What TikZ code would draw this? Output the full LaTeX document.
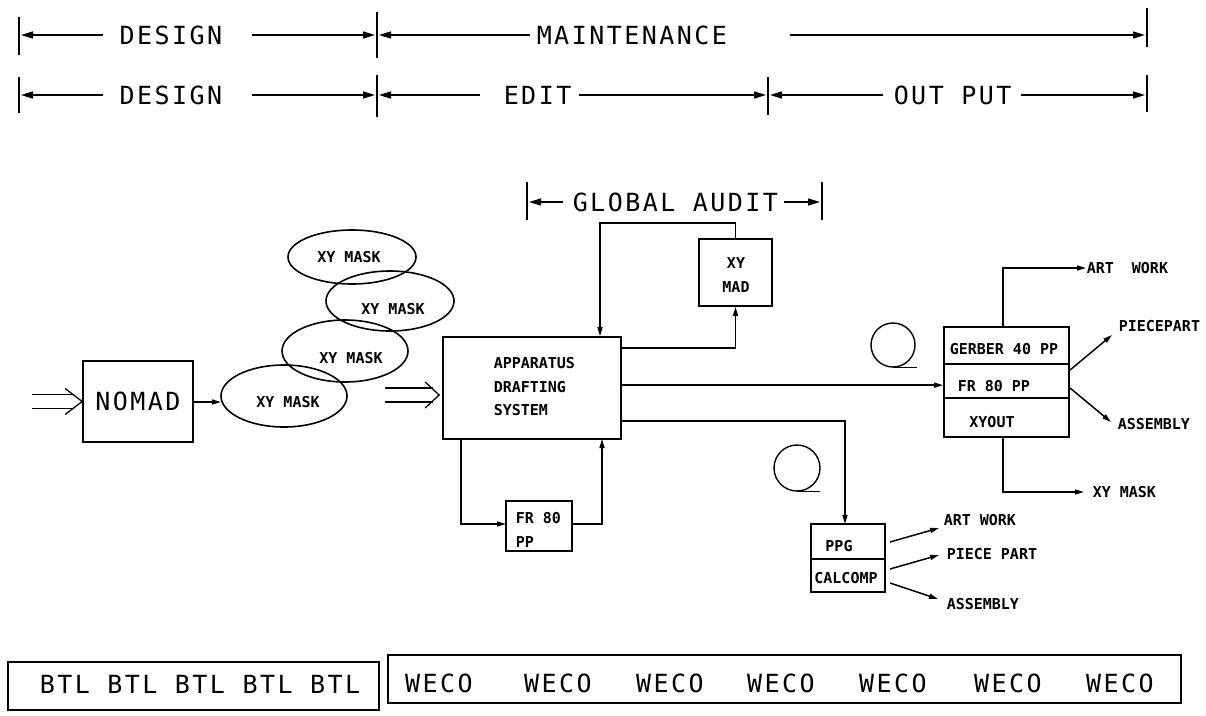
\documentclass[tikz,border=0pt]{standalone}
\usepackage{fontspec}
\usetikzlibrary{arrows.meta,shapes.geometric,calc}
\newfontfamily\plotfont[LetterSpace=9.8]{DejaVu Sans Mono}
\newfontfamily\smallfont{DejaVu Sans Mono}
\begin{document}
\begin{tikzpicture}[x=1pt,y=-1pt,line width=1.5pt,
  big/.style={font=\plotfont\fontsize{25}{25}\selectfont, inner sep=0pt},
  small/.style={font=\smallfont\bfseries\fontsize{15}{23.5}\selectfont, inner sep=0pt},
  dimtip/.style={-{Triangle[length=12pt,width=7pt]}},
  stip/.style={-{Triangle[length=9pt,width=5pt]}},
  box/.style={draw, line width=1.7pt, inner sep=0pt},
  mask/.style={ellipse, draw, line width=1.6pt, inner sep=0pt},
  dline/.style={line width=1.3pt},
  bar/.style={line width=1.5pt}]
\useasboundingbox (0,0) rectangle (1206,715);

% ---------- top dimension rows ----------
\draw[bar] (19,17) -- (19,55);
\draw[bar] (377,12) -- (377,58);
\draw[bar] (1147,8) -- (1147,47);
\node[big] (des1) at (171,35) {DESIGN};
\coordinate (r1a) at (21,35);
\coordinate (r1b) at (375,35);
\coordinate (r1c) at (379,35);
\coordinate (r1d) at (1145,35);
\draw[dimtip] ($(des1.west)+(-16,0)$) -- (r1a);
\draw[dimtip] ($(des1.east)+(29,0)$) -- (r1b);
\node[big,anchor=west] (mnt) at (536,35) {MAINTENANCE};
\draw[dimtip] ($(mnt.west)+(-6,0)$) -- (r1c);
\draw[dimtip] ($(mnt.east)+(62,0)$) -- (r1d);

\draw[bar] (19,77) -- (19,113);
\draw[bar] (377,75) -- (377,117);
\draw[bar] (768,77) -- (768,115);
\draw[bar] (1147,75) -- (1147,112);
\node[big] (des2) at (171,95) {DESIGN};
\coordinate (r2a) at (21,95);
\coordinate (r2b) at (375,95);
\coordinate (r2c) at (379,95);
\coordinate (r2d) at (766,95);
\coordinate (r2e) at (770,95);
\coordinate (r2f) at (1145,95);
\draw[dimtip] ($(des2.west)+(-16,0)$) -- (r2a);
\draw[dimtip] ($(des2.east)+(29,0)$) -- (r2b);
\node[big,anchor=west] (edit) at (503,95) {EDIT};
\draw[dimtip] ($(edit.west)+(-23,0)$) -- (r2c);
\draw[dimtip] ($(edit.east)+(7,0)$) -- (r2d);
\node[big,anchor=west] (outp) at (893,95) {OUT PUT};
\draw[dimtip] ($(outp.west)+(-10,0)$) -- (r2e);
\draw[dimtip] ($(outp.east)+(9,0)$) -- (r2f);

% ---------- global audit ----------
\draw[bar] (527,182) -- (527,220);
\draw[bar] (822,182) -- (822,220);
\node[big,anchor=west] (ga) at (572,202) {GLOBAL AUDIT};
\coordinate (ga1) at (529,202);
\coordinate (ga2) at (820,202);
\draw[dimtip] ($(ga.west)+(-9,0)$) -- (ga1);
\draw[dimtip] ($(ga.east)+(5,0)$) -- (ga2);

% ---------- left part ----------
\node[box, minimum width=110pt, minimum height=81pt, font=\plotfont\fontsize{25}{25}\selectfont] (nomad) at (138,401.5) {NOMAD};
\coordinate (in1) at (32,401.5);
\coordinate (nw) at (nomad.west);
\draw[dline] ($(in1)+(0,-7)$) -- ($(nw)+(-9,-7)$);
\draw[dline] ($(in1)+(0,7)$) -- ($(nw)+(-9,7)$);
\draw[dline] ($(nw)+(-17,-13)$) -- (nw) -- ($(nw)+(-17,13)$);

\node[mask, minimum width=128pt, minimum height=54pt] (e1) at (352,257) {};
\node[mask, minimum width=128pt, minimum height=60pt] (e2) at (390,301) {};
\node[mask, minimum width=126pt, minimum height=62pt] (e3) at (345,351) {};
\node[mask, minimum width=126pt, minimum height=62pt] (e4) at (284,396) {};
\node[small] (t1) at (349,257) {XY MASK};
\node[small] (t2) at (393,309) {XY MASK};
\node[small] (t3) at (351,358) {XY MASK};
\node[small] (t4) at (288,402) {XY MASK};
\coordinate (n4) at (221,402);
\draw[stip] (nomad.east |- n4) -- (n4);

% ---------- apparatus drafting system ----------
\node[box, minimum width=178pt, minimum height=102pt] (ads) at (532,388) {};
\node[small, align=left, anchor=north west] (adst) at (493,357) {APPARATUS\\DRAFTING\\SYSTEM};
\coordinate (in2) at (385,395);
\coordinate (aw) at (in2 -| ads.west);
\draw[dline] ($(in2)+(0,-7)$) -- ($(aw)+(-9,-7)$);
\draw[dline] ($(in2)+(0,7)$) -- ($(aw)+(-9,7)$);
\draw[dline] ($(aw)+(-17,-13)$) -- ($(aw)+(-3,0)$) -- ($(aw)+(-17,13)$);

\node[box, minimum width=73pt, minimum height=67pt] (xymad) at (735.5,272.5) {};
\node[small, align=center] (xymadt) at (736,275) {XY\\MAD};
\coordinate (lp) at (600,223);
\draw[stip] (xymad.north) |- (lp) -- (lp |- ads.north);
\coordinate (o0) at ($(ads.north east)+(0,12)$);
\draw[stip] (o0) -| (xymad.south);

\node[box, minimum width=66pt, minimum height=50pt] (fr) at (539,526) {};
\node[small, align=left, anchor=north west] (frt) at (515,512) {FR 80\\PP};
\coordinate (fa) at (461,439);
\coordinate (fb) at (602,439);
\coordinate (fc) at (506,524);
\draw[stip] (fa) |- (fc);
\draw[stip] (fr.east |- fc) -| (fb);

% ---------- output devices ----------
\node[box, minimum width=125pt, minimum height=37pt] (gc) at (1006.5,345.5) {};
\node[box, minimum width=125pt, minimum height=34pt] (fcell) at (1006.5,381) {};
\node[box, minimum width=125pt, minimum height=39pt] (xc) at (1006.5,417.5) {};
\node[small, anchor=west] (gct) at (949,349) {GERBER 40 PP};
\node[small, anchor=west] (fct) at (957,386) {FR 80 PP};
\node[small] (xct) at (992,422) {XYOUT};
\coordinate (o1) at ($(ads.north east)+(0,49)$);
\draw[stip] (o1) -- (o1 -| fcell.west);

\node[small, anchor=west] (aw1) at (1086,268) {ART\ \ WORK};
\coordinate (g1) at (1003,327);
\draw[stip] (g1) |- (aw1.west);
\node[small, anchor=west] (pp1) at (1118,326) {PIECEPART};
\coordinate (pa) at (1070,370);
\coordinate (pb) at (1112,335);
\draw[stip] (pa) -- (pb);
\node[small, anchor=west] (as1) at (1117,424) {ASSEMBLY};
\coordinate (qa) at (1070,388);
\coordinate (qb) at (1111,422);
\draw[stip] (qa) -- (qb);
\node[small, anchor=west] (xm1) at (1092,492) {XY MASK};
\coordinate (x1) at (1003,437);
\draw[stip] (x1) |- ($(xm1.west)+(-8,0)$);

\node[box, minimum width=74pt, minimum height=35pt] (ppg) at (848,541.5) {};
\node[box, minimum width=74pt, minimum height=33pt] (cal) at (848,575.5) {};
\node[small] (ppgt) at (839,546) {PPG};
\node[small] (calt) at (846,578) {CALCOMP};
\coordinate (o2) at ($(ads.north east)+(0,85)$);
\coordinate (pt) at (845,524);
\draw[stip] (o2) -| (pt);

\node[small, anchor=west] (aw2) at (943,520) {ART WORK};
\node[small, anchor=west] (pp2) at (946,554) {PIECE PART};
\node[small, anchor=west] (as2) at (946,604) {ASSEMBLY};
\coordinate (k1) at (890,542);
\coordinate (k2) at (890,569);
\coordinate (k3) at (890,583);
\draw[stip] (k1) -- ($(aw2.west)+(-4,8)$);
\draw[stip] (k2) -- ($(pp2.west)+(-7,1)$);
\draw[stip] (k3) -- ($(as2.west)+(-8,-5)$);

% tape reels
\node[circle, draw, line width=1.4pt, minimum size=44pt, inner sep=0pt] (c1) at (893,345) {};
\draw[line width=1.4pt] (c1.south) -- ++(24,0);
\node[circle, draw, line width=1.4pt, minimum size=46pt, inner sep=0pt] (c2) at (797,468) {};
\draw[line width=1.4pt] (c2.south) -- ++(23,0);

% ---------- bottom bars ----------
\node[box, line width=1.4pt, minimum width=371pt, minimum height=48pt] (btl) at (193.5,686) {};
\node[box, line width=1.4pt, minimum width=793pt, minimum height=48pt] (weco) at (784.5,679) {};
\node[big] (btlt) at (200,684) {BTL BTL BTL BTL BTL};
\foreach \i/\x in {1/439,2/558,3/670,4/781,5/893,6/1008,7/1120}{
  \node[big] (w\i) at (\x,683) {WECO};
}
\end{tikzpicture}
\end{document}
